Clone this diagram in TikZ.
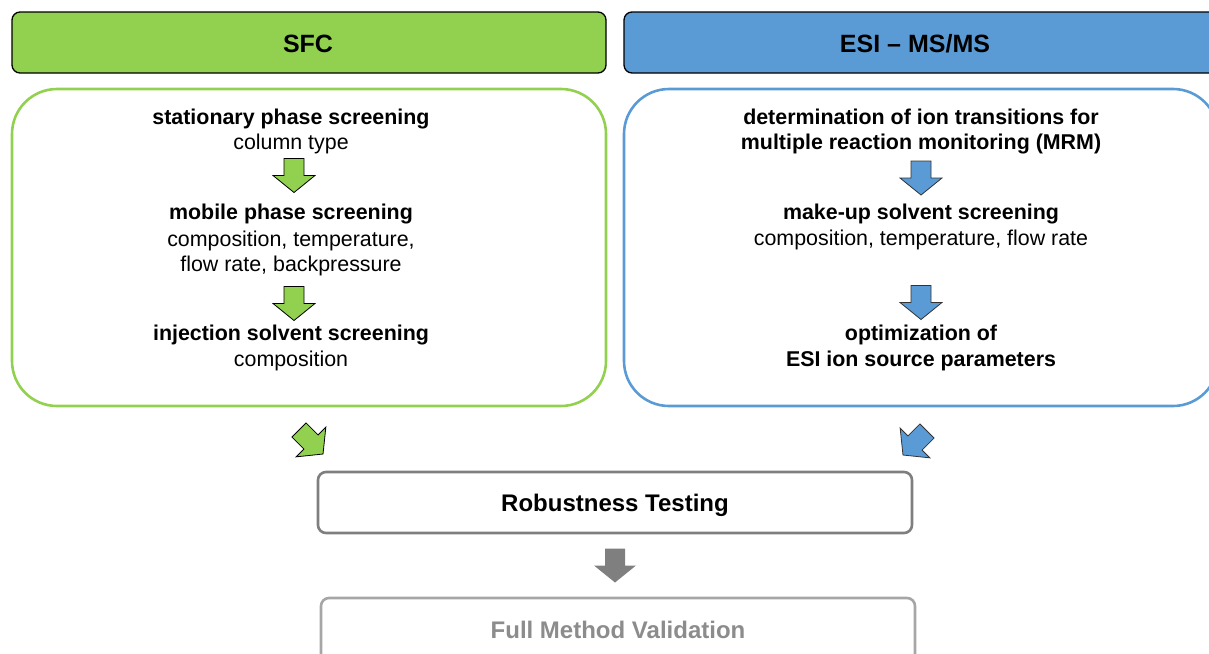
\documentclass[tikz,border=0pt]{standalone}
\usepackage{fontspec}
\setmainfont{Liberation Sans}
\definecolor{sfcgreen}{HTML}{92D050}
\definecolor{esiblue}{HTML}{5B9BD5}
\definecolor{boxgray}{HTML}{7F7F7F}
\definecolor{lightgray}{HTML}{A6A6A6}
\definecolor{textgray}{HTML}{8C8C8C}
\tikzset{
  header/.style={draw=black, line width=1.3pt, rounded corners=8pt},
  panel/.style={line width=2.6pt, rounded corners=45pt},
  line/.style={anchor=base, inner sep=0pt, font=\fontsize{21.4}{25}\selectfont},
  bline/.style={line, font=\fontsize{21.4}{25}\selectfont\bfseries},
  htext/.style={anchor=base, inner sep=0pt, font=\fontsize{25}{29}\selectfont\bfseries},
  btext/.style={anchor=base, inner sep=0pt, font=\fontsize{24}{28}\selectfont\bfseries},
  blockarrow/.pic={\path[pic actions] (-10,-17) -- (10,-17) -- (10,0) -- (21,0) -- (0,17) -- (-21,0) -- (-10,0) -- cycle;},
  garrow/.style={fill=sfcgreen, draw=black, line width=0.8pt, line join=miter},
  barrow/.style={fill=esiblue, draw=black!80, line width=0.8pt, line join=miter},
}
\begin{document}
\begin{tikzpicture}[x=1pt, y=-1pt]
\useasboundingbox (0,0) rectangle (1209,653);
\clip (0,0) rectangle (1209,653);
% headers
\draw[header, fill=sfcgreen] (12,12) rectangle (606,73);
\node[htext] (sfct) at (308,52) {SFC};
\draw[header, fill=esiblue] (624,12) rectangle (1218,73);
\node[htext] (esit) at (915,52) {ESI – MS/MS};
% panels
\draw[panel, draw=sfcgreen] (12,89) rectangle (606,406);
\draw[panel, draw=esiblue] (624,89) rectangle (1218,406);
% SFC texts
\node[bline] (s1) at (291,124.5) {stationary phase screening};
\node[line] (s1b) at (291,149.5) {column type};
\node[bline] (s2) at (291,219.5) {mobile phase screening};
\node[line] (s2b) at (291,246.5) {composition, temperature,};
\node[line] (s2c) at (291,271.5) {flow rate, backpressure};
\node[bline] (s3) at (291,340.5) {injection solvent screening};
\node[line] (s3b) at (291,366.5) {composition};
\pic[garrow] at (294,175.5) {blockarrow};
\pic[garrow] at (294,303.5) {blockarrow};
% ESI texts
\node[bline] (e1) at (921,124.5) {determination of ion transitions for};
\node[bline] (e1b) at (921,149.5) {multiple reaction monitoring (MRM)};
\node[bline] (e2) at (921,219.5) {make-up solvent screening};
\node[line] (e2b) at (921,245.5) {composition, temperature, flow rate};
\node[bline] (e3) at (921,340.5) {optimization of};
\node[bline] (e3b) at (921,366.5) {ESI ion source parameters};
\pic[barrow] at (921,178) {blockarrow};
\pic[barrow] at (921,302.5) {blockarrow};
% diagonal arrows
\pic[garrow, rotate=45] at (311,442) {blockarrow};
\pic[barrow, rotate=-45] at (915,443) {blockarrow};
% robustness
\draw[line width=2.6pt, draw=boxgray, rounded corners=8pt] (318,472) rectangle (912,533);
\node[btext] (rob) at (615,511.5) {Robustness Testing};
\pic[fill=boxgray] at (615,565.5) {blockarrow};
% full method validation
\draw[line width=2.6pt, draw=lightgray, rounded corners=8pt] (321,598) rectangle (915,662);
\node[btext, text=textgray] (fmv) at (618,638.5) {Full Method Validation};
\end{tikzpicture}
\end{document}
